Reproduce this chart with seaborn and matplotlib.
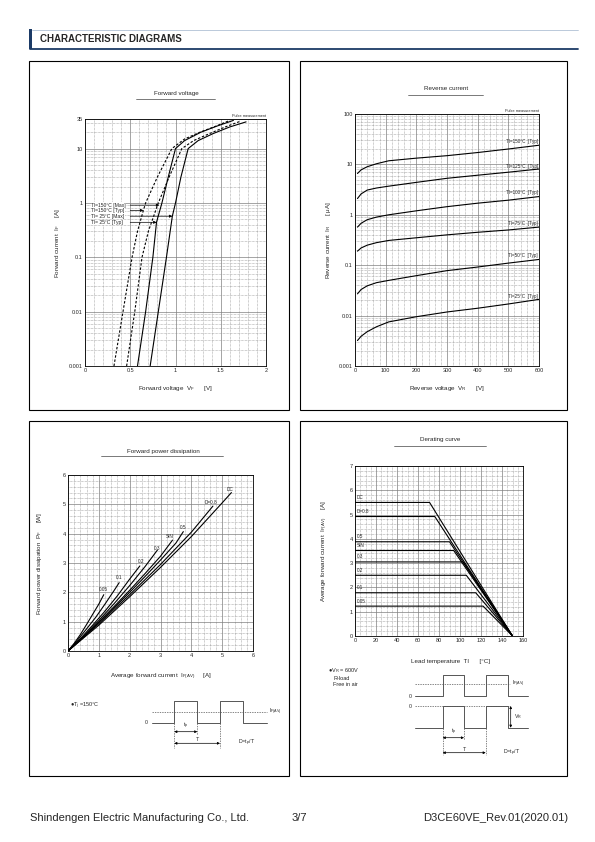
import numpy as np
import pandas as pd
import matplotlib
matplotlib.use("Agg")
import matplotlib.pyplot as plt
import seaborn as sns
from matplotlib.ticker import MultipleLocator, LogLocator, NullFormatter, FixedLocator, FixedFormatter
from matplotlib.patches import Rectangle

sns.set_style("white")
plt.rcParams['font.family'] = ['Liberation Sans', 'DejaVu Sans']
plt.rcParams['mathtext.fontset'] = 'custom'
plt.rcParams['mathtext.rm'] = 'Liberation Sans'
plt.rcParams['mathtext.default'] = 'regular'

W, H = 595, 842

# ---- Forward voltage (VF [V], IF [A]) ----
fv_150_typ_v = [0.32, 0.42, 0.52, 0.58, 0.645, 0.67, 0.80, 0.96, 1.10, 1.27, 1.45, 1.60]
fv_150_typ_i = [0.001, 0.01, 0.1, 0.3, 0.73, 1, 3, 10, 15, 20, 26, 33]
fv_150_max_v = [0.46, 0.55, 0.63, 0.70, 0.81, 0.93, 1.07, 1.20, 1.38, 1.55, 1.72]
fv_150_max_i = [0.001, 0.01, 0.1, 0.3, 1, 3, 10, 14, 19, 25, 32]
fv_25_typ_v = [0.58, 0.67, 0.75, 0.79, 0.85, 0.92, 1.00, 1.10, 1.28, 1.46, 1.64]
fv_25_typ_i = [0.001, 0.01, 0.1, 0.44, 1, 3, 10, 14, 20, 26, 33]
fv_25_max_v = [0.72, 0.81, 0.90, 0.965, 1.00, 1.06, 1.14, 1.25, 1.42, 1.60, 1.78]
fv_25_max_i = [0.001, 0.01, 0.1, 0.57, 1, 3, 10, 14, 19, 25, 31]
fv_labels = ["Tl=150°C [Max]", "Tl=150°C [Typ]", "Tl= 25°C [Max]", "Tl= 25°C [Typ]"]
fv_label_if = [0.91, 0.73, 0.57, 0.44]
fv_label_vf = [0.82, 0.645, 0.965, 0.79]

# ---- Reverse current (VR [V], IR [uA]) ----
rc_vr = [8, 20, 40, 70, 110, 200, 300, 400, 500, 600]
rc_150 = [6.6, 7.8, 9.0, 10.3, 11.8, 13.3, 14.9, 17.2, 20.2, 24.0]
rc_125 = [2.1, 2.6, 3.1, 3.4, 3.7, 4.4, 5.3, 6.1, 7.0, 8.1]
rc_100 = [0.57, 0.68, 0.80, 0.90, 1.0, 1.2, 1.45, 1.7, 1.95, 2.3]
rc_75 = [0.19, 0.22, 0.25, 0.28, 0.31, 0.35, 0.40, 0.45, 0.50, 0.57]
rc_50 = [0.027, 0.033, 0.039, 0.045, 0.050, 0.062, 0.078, 0.092, 0.11, 0.13]
rc_25 = [0.0032, 0.0039, 0.0048, 0.0060, 0.0075, 0.0095, 0.0118, 0.014, 0.017, 0.021]
rc_labels = ["Tl=150°C  [Typ]", "Tl=125°C  [Typ]", "Tl=100°C  [Typ]",
             "Tl=75°C  [Typ]", "Tl=50°C  [Typ]", "Tl=25°C  [Typ]"]
rc_label_y = [28, 9.1, 2.8, 0.68, 0.155, 0.024]

# ---- Forward power dissipation (IF(AV) [A], PF [W]) ----
pd_names = ["0.05", "0.1", "0.2", "0.3", "SIN", "0.5", "D=0.8", "DC"]
pd_x = [
    [0, 0.2, 0.4, 0.6, 0.8, 1.0, 1.16],
    [0, 0.3, 0.6, 0.9, 1.2, 1.5, 1.66],
    [0, 0.4, 0.8, 1.2, 1.6, 2.0, 2.33],
    [0, 0.5, 1.0, 1.5, 2.0, 2.5, 2.9],
    [0, 0.5, 1.0, 1.5, 2.0, 2.5, 3.0, 3.39],
    [0, 0.5, 1.0, 1.5, 2.0, 2.5, 3.0, 3.5, 3.74],
    [0, 1, 2, 3, 4, 4.7],
    [0, 1, 2, 3, 4, 5, 5.3],
]
pd_y = [
    [0, 0.26, 0.56, 0.90, 1.25, 1.60, 1.92],
    [0, 0.36, 0.75, 1.15, 1.60, 2.07, 2.33],
    [0, 0.42, 0.88, 1.36, 1.88, 2.45, 2.90],
    [0, 0.50, 1.04, 1.62, 2.23, 2.88, 3.44],
    [0, 0.48, 0.99, 1.52, 2.07, 2.64, 3.23, 3.78],
    [0, 0.47, 0.97, 1.48, 2.00, 2.54, 3.10, 3.68, 4.07],
    [0, 0.93, 1.92, 2.95, 4.05, 4.94],
    [0, 0.88, 1.85, 2.85, 3.90, 5.05, 5.40],
]
pd_label_x = [1.16, 1.66, 2.36, 2.9, 3.31, 3.74, 4.64, 5.26]
pd_label_y = [2.08, 2.51, 3.05, 3.48, 3.90, 4.22, 5.06, 5.52]

# ---- Derating curve (Tl [°C], IF(AV) [A]) ----
dr_names = ["DC", "D=0.8", "0.5", "SIN", "0.3", "0.2", "0.1", "0.05"]
dr_level = [5.5, 4.92, 3.88, 3.52, 3.05, 2.5, 1.78, 1.23]
dr_knee = [71, 76, 90, 94, 103, 106, 115, 122]
dr_zero_t = 150


def rect(x0, y0, x1, y1):
    return [x0 / W, 1 - y1 / H, (x1 - x0) / W, (y1 - y0) / H]


def style_axes(ax):
    ax.grid(which='major', color='#808080', lw=0.5, ls='-')
    ax.grid(which='minor', color='#8a8a8a', lw=0.45, ls=(0, (1, 1.2)))
    ax.tick_params(which='both', length=0, labelsize=4, pad=1.5)
    for s in ax.spines.values():
        s.set_linewidth(0.6)
        s.set_color('black')
    ax.set_axisbelow(True)


def curve(ax, x, y, ls='-'):
    sns.lineplot(x=x, y=y, ax=ax, color='black', lw=0.8, linestyle=ls,
                 sort=False, estimator=None)


fig = plt.figure(figsize=(W / 100, H / 100), dpi=100)

# overlay in page pixels for frames, titles and schematics
ov = fig.add_axes([0, 0, 1, 1])
ov.set_xlim(0, W)
ov.set_ylim(H, 0)
ov.axis('off')

# header
ov.plot([30, 578], [49.3, 49.3], color='#1b3a66', lw=1.3)
ov.plot([32, 578], [29.5, 29.5], color='#9fb3cc', lw=0.5)
ov.add_patch(Rectangle((28.5, 29.3), 3.3, 20, color='#1b3a66', lw=0))
ov.text(40, 39.5, "CHARACTERISTIC DIAGRAMS", fontsize=7, fontweight='bold', va='center')

# panel frames
for x0, y0, x1, y1 in [(29, 61, 289, 410), (300, 61, 567, 410),
                       (29, 421, 289, 776), (300, 421, 567, 776)]:
    ov.add_patch(Rectangle((x0, y0), x1 - x0, y1 - y0, fill=False, ec='black', lw=0.8))

# titles with underline
for txt, cx, ty, ux0, ux1, uy in [("Forward voltage", 176, 93.5, 136, 215, 98.5),
                                   ("Reverse current", 446, 89, 408, 483, 95),
                                   ("Forward power dissipation", 163, 451, 101, 223, 455.5),
                                   ("Derating curve", 440, 439.5, 394, 486, 446)]:
    ov.text(cx, ty, txt, fontsize=4.5, ha='center', va='center')
    ov.plot([ux0, ux1], [uy, uy], color='#444444', lw=0.5)

# footer
ov.text(30, 818, "Shindengen Electric Manufacturing Co., Ltd.", fontsize=8, va='center')
ov.text(299, 818, "3/7", fontsize=8, va='center', ha='center')
ov.text(568, 818, "D3CE60VE_Rev.01(2020.01)", fontsize=8, va='center', ha='right')

# ---------- Forward voltage ----------
ax1 = fig.add_axes(rect(85, 119, 266, 366))
ax1.set_yscale('log')
for v, i, ls in [(fv_150_typ_v, fv_150_typ_i, (0, (2.2, 1.6))),
                 (fv_150_max_v, fv_150_max_i, (0, (2.2, 1.6))),
                 (fv_25_typ_v, fv_25_typ_i, '-'),
                 (fv_25_max_v, fv_25_max_i, '-')]:
    curve(ax1, v, i, ls)
ax1.set_xlim(0, 2)
ax1.set_ylim(0.001, 35)
ax1.yaxis.set_major_locator(FixedLocator([0.001, 0.01, 0.1, 1, 10, 35]))
ax1.yaxis.set_major_formatter(FixedFormatter(['0.001', '0.01', '0.1', '1', '10', '35']))
ax1.yaxis.set_minor_locator(LogLocator(base=10, subs=np.arange(2, 10)))
ax1.yaxis.set_minor_formatter(NullFormatter())
ax1.xaxis.set_major_locator(FixedLocator([0, 0.5, 1, 1.5, 2]))
ax1.xaxis.set_major_formatter(FixedFormatter(['0', '0.5', '1', '1.5', '2']))
ax1.xaxis.set_minor_locator(MultipleLocator(0.1))
style_axes(ax1)
ax1.set_ylabel("Forward current  I$_F$     [A]", fontsize=4.5)
ax1.set_xlabel("Forward voltage  V$_F$      [V]", fontsize=4.5)
ax1.yaxis.set_label_coords(-0.125, 0.5)
ax1.xaxis.set_label_coords(0.5, -0.073)
for lab, yi, xv in zip(fv_labels, fv_label_if, fv_label_vf):
    ax1.text(0.07, yi, lab, fontsize=3.6, va='center', ha='left',
             bbox=dict(fc='white', ec='none', pad=0.2))
    ax1.annotate('', xy=(xv, yi), xytext=(0.5, yi),
                 arrowprops=dict(arrowstyle='-|>', lw=0.5, color='black',
                                 mutation_scale=4, shrinkA=0, shrinkB=0))
ax1.text(1.0, 1.005, "Pulse measurement", transform=ax1.transAxes, fontsize=2.8,
         ha='right', va='bottom')

# ---------- Reverse current ----------
ax2 = fig.add_axes(rect(355, 114, 539, 366))
ax2.set_yscale('log')
for ir in [rc_150, rc_125, rc_100, rc_75, rc_50, rc_25]:
    curve(ax2, rc_vr, ir)
ax2.set_xlim(0, 600)
ax2.set_ylim(0.001, 100)
ax2.yaxis.set_major_locator(FixedLocator([0.001, 0.01, 0.1, 1, 10, 100]))
ax2.yaxis.set_major_formatter(FixedFormatter(['0.001', '0.01', '0.1', '1', '10', '100']))
ax2.yaxis.set_minor_locator(LogLocator(base=10, subs=np.arange(2, 10)))
ax2.yaxis.set_minor_formatter(NullFormatter())
ax2.xaxis.set_major_locator(MultipleLocator(100))
ax2.xaxis.set_minor_locator(MultipleLocator(20))
style_axes(ax2)
ax2.set_ylabel("Reverse current  I$_R$      [ μA]", fontsize=4.5)
ax2.set_xlabel("Reverse voltage  V$_R$      [V]", fontsize=4.5)
ax2.yaxis.set_label_coords(-0.121, 0.5)
ax2.xaxis.set_label_coords(0.5, -0.073)
for lab, yv in zip(rc_labels, rc_label_y):
    ax2.text(597, yv, lab, fontsize=3.3, ha='right', va='center')
ax2.text(1.0, 1.005, "Pulse measurement", transform=ax2.transAxes, fontsize=2.8,
         ha='right', va='bottom')

# ---------- Forward power dissipation ----------
ax3 = fig.add_axes(rect(68, 475, 253, 651))
for x, y in zip(pd_x, pd_y):
    curve(ax3, x, y)
ax3.set_xlim(0, 6)
ax3.set_ylim(0, 6)
ax3.xaxis.set_major_locator(MultipleLocator(1))
ax3.yaxis.set_major_locator(MultipleLocator(1))
ax3.xaxis.set_minor_locator(MultipleLocator(0.2))
ax3.yaxis.set_minor_locator(MultipleLocator(0.2))
style_axes(ax3)
ax3.set_ylabel("Forward power dissipation  P$_F$     [W]", fontsize=4.5)
ax3.set_xlabel("Average forward current  I$_{F(AV)}$     [A]", fontsize=4.5)
ax3.yaxis.set_label_coords(-0.13, 0.5)
ax3.xaxis.set_label_coords(0.5, -0.12)
for name, lx, ly in zip(pd_names, pd_label_x, pd_label_y):
    ax3.text(lx, ly, name, fontsize=3.4, ha='center', va='center')

# ---------- Derating curve ----------
ax4 = fig.add_axes(rect(355, 466, 523, 636))
for lev, knee in zip(dr_level, dr_knee):
    curve(ax4, [0, knee, dr_zero_t], [lev, lev, 0])
ax4.set_xlim(0, 160)
ax4.set_ylim(0, 7)
ax4.xaxis.set_major_locator(MultipleLocator(20))
ax4.xaxis.set_minor_locator(MultipleLocator(5))
ax4.yaxis.set_major_locator(MultipleLocator(1))
ax4.yaxis.set_minor_locator(MultipleLocator(0.2))
style_axes(ax4)
ax4.set_ylabel("Average forward current  I$_{F(AV)}$     [A]", fontsize=4.5)
ax4.set_xlabel("Lead temperature  Tl      [°C]", fontsize=4.5)
ax4.yaxis.set_label_coords(-0.149, 0.5)
ax4.xaxis.set_label_coords(0.57, -0.135)
for name, lev in zip(dr_names, dr_level):
    ax4.text(2, lev + 0.1, name, fontsize=3.3, ha='left', va='bottom')

# ---------- waveform schematics ----------
wave_c = '#555555'
dash = (0, (2, 1.5))


def pulse_train(x_edges, lo, hi, start_low=True):
    xs, ys = [x_edges[0]], [lo if start_low else hi]
    level = lo if start_low else hi
    for xe in x_edges[1:-1]:
        xs += [xe, xe]
        ys += [level, hi if level == lo else lo]
        level = hi if level == lo else lo
    xs.append(x_edges[-1])
    ys.append(level)
    return xs, ys


def dim_arrow(x0, x1, y, label):
    ov.annotate('', xy=(x0, y), xytext=(x1, y),
                arrowprops=dict(arrowstyle='<|-|>', lw=0.5, color='black',
                                mutation_scale=3.5, shrinkA=0, shrinkB=0))
    ov.text((x0 + x1) / 2, y - 1, label, fontsize=3.8, ha='center', va='bottom')


# left (forward power)
ex = [151.7, 174.3, 197.3, 220, 243.3, 266.7]
xs, ys = pulse_train(ex, 722.7, 700.7)
ov.plot(xs, ys, color=wave_c, lw=0.7)
ov.plot([151.7, 267], [711.7, 711.7], color=wave_c, lw=0.5, ls=dash)
ov.text(269, 711.7, "I$_{F(AV)}$", fontsize=3.8, va='center')
ov.text(148, 722.7, "0", fontsize=3.8, va='center', ha='right')
ov.text(70, 706, "●T$_j$ =150°C", fontsize=4, va='center')
for xv, yb in [(174.3, 748), (197.3, 735), (220, 748)]:
    ov.plot([xv, xv], [722.7, yb], color=wave_c, lw=0.5, ls=dash)
dim_arrow(174.3, 197.3, 731.7, "t$_p$")
dim_arrow(174.3, 220, 743.3, "T")
ov.text(238, 743.3, "D=t$_p$/T", fontsize=3.8, va='center')

# right (derating)
ex = [415, 442.7, 464, 485.7, 508.3, 528.3]
xs, ys = pulse_train(ex, 696, 675)
ov.plot(xs, ys, color=wave_c, lw=0.7)
ov.plot([415, 510], [684.3, 684.3], color=wave_c, lw=0.5, ls=dash)
ov.text(512, 684.3, "I$_{F(AV)}$", fontsize=3.8, va='center')
ov.text(412, 696, "0", fontsize=3.8, va='center', ha='right')
xs, ys = pulse_train(ex, 727.7, 706)
ov.plot(xs, ys, color=wave_c, lw=0.7)
ov.plot([415, 510], [706, 706], color=wave_c, lw=0.5, ls=dash)
ov.text(412, 706, "0", fontsize=3.8, va='center', ha='right')
ov.annotate('', xy=(510.7, 706), xytext=(510.7, 727.7),
            arrowprops=dict(arrowstyle='<|-|>', lw=0.5, color='black',
                            mutation_scale=3.5, shrinkA=0, shrinkB=0))
ov.text(514, 717, "V$_R$", fontsize=3.8, va='center')
for xv, yb in [(442.7, 755), (464, 740), (485.7, 755)]:
    ov.plot([xv, xv], [727.7, yb], color=wave_c, lw=0.5, ls=dash)
dim_arrow(442.7, 464, 737.7, "t$_p$")
dim_arrow(442.7, 485.7, 752.7, "T")
ov.text(503, 752.7, "D=t$_p$/T", fontsize=3.8, va='center')
ov.text(328, 671, "●V$_R$ = 600V", fontsize=4, va='center')
ov.text(333, 678, "R-load", fontsize=4, va='center')
ov.text(333, 685, "Free in air", fontsize=4, va='center')

fig.savefig("out.png", dpi=100)
